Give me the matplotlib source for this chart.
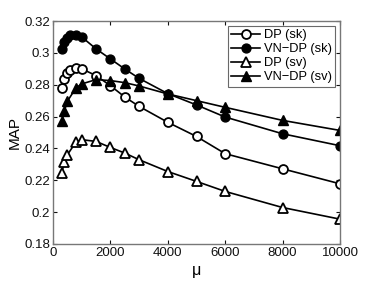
import matplotlib
matplotlib.use("Agg")
import matplotlib.pyplot as plt

plt.rcParams['font.family'] = ['Liberation Sans', 'DejaVu Sans']

mu_a = [300, 400, 500, 600, 800, 1000, 1500, 2000, 2500, 3000, 4000, 5000, 6000, 8000, 10000]
dp_sk = [0.278, 0.2836, 0.2874, 0.2895, 0.2908, 0.2900, 0.2857, 0.2794, 0.2723, 0.2664,
         0.2564, 0.2475, 0.2367, 0.2272, 0.2178]
vn_sk = [0.3025, 0.3067, 0.3094, 0.3110, 0.3115, 0.3100, 0.3025, 0.2962, 0.2899, 0.2840,
         0.2744, 0.2673, 0.2597, 0.2492, 0.2417]

mu_b = [300, 400, 500, 800, 1000, 1500, 2000, 2500, 3000, 4000, 5000, 6000, 8000, 10000]
dp_sv = [0.2245, 0.2314, 0.2360, 0.2440, 0.2455, 0.2444, 0.2406, 0.2371, 0.2329, 0.2255,
         0.2193, 0.2130, 0.2029, 0.1956]
vn_sv = [0.2570, 0.2637, 0.2696, 0.2780, 0.2805, 0.2832, 0.2826, 0.2813, 0.2792, 0.2742,
         0.2700, 0.2658, 0.2576, 0.2513]

xticks = [0, 2000, 4000, 6000, 8000, 10000]
yticks = [0.18, 0.2, 0.22, 0.24, 0.26, 0.28, 0.3, 0.32]
ytick_labels = ['0.18', '0.2', '0.22', '0.24', '0.26', '0.28', '0.3', '0.32']

fig = plt.figure(figsize=(3.74, 2.81), dpi=100)
ax = fig.add_axes([53/374, 1 - 244/281, (340-53)/374, (244-21)/281])

ms = 6.4
lw = 1.2
ax.plot(mu_a, dp_sk, '-o', color='k', mfc='white', mec='k', mew=1.3, ms=ms, lw=lw, label='DP (sk)')
ax.plot(mu_a, vn_sk, '-o', color='k', mfc='k', mec='k', ms=ms, lw=lw, label='VN\u2212DP (sk)')
ax.plot(mu_b, dp_sv, '-^', color='k', mfc='white', mec='k', mew=1.3, ms=ms+0.6, lw=lw, label='DP (sv)')
ax.plot(mu_b, vn_sv, '-^', color='k', mfc='k', mec='k', ms=ms+0.6, lw=lw, label='VN\u2212DP (sv)')

ax.set_xlim(0, 10000)
ax.set_ylim(0.18, 0.32)
ax.set_xticks(xticks)
ax.set_xticklabels([str(t) for t in xticks])
ax.set_yticks(yticks)
ax.set_yticklabels(ytick_labels)
ax.tick_params(direction='in', length=3, width=0.8, labelsize=9.5, colors='#111',
               top=True, right=True, pad=2)
for s in ax.spines.values():
    s.set_color('#777')
    s.set_linewidth(1.0)

ax.set_xlabel('\u03bc', fontsize=11.5, labelpad=3)
ax.set_ylabel('MAP', fontsize=11, labelpad=2)

leg = ax.legend(loc='upper right', fontsize=9.3, frameon=True, fancybox=False,
                edgecolor='#444', handlelength=2.2, handletextpad=0.3,
                borderpad=0.25, labelspacing=0.15, borderaxespad=0.4)
leg.get_frame().set_linewidth(0.8)

fig.savefig('out.png', dpi=100)
